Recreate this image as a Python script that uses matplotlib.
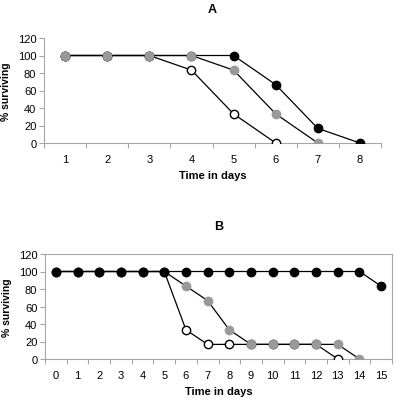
import matplotlib
matplotlib.use("Agg")
import matplotlib.pyplot as plt
import numpy as np

plt.rcParams['font.family'] = ['Liberation Sans', 'DejaVu Sans']

# Panel A data
days_a = [1, 2, 3, 4, 5, 6, 7, 8]
a_black = [100, 100, 100, 100, 100, 66.7, 16.7, 0]
a_gray = [100, 100, 100, 100, 83.3, 33.3, 0]
a_open = [100, 100, 100, 83.3, 33.3, 0]

# Panel B data
days_b = list(range(0, 16))
b_black = [100]*15 + [83.3]
b_gray = [100, 100, 100, 100, 100, 100, 83.3, 66.7, 33.3, 16.7, 16.7, 16.7, 16.7, 16.7, 0]
b_open = [100, 100, 100, 100, 100, 100, 33.3, 16.7, 16.7, 16.7, 16.7, 16.7, 16.7, 0]

W, H = 400, 402
fig = plt.figure(figsize=(W/100, H/100), dpi=100)

GRAY = '#999999'
AXC = '#a6a6a6'
ms = 6.0

def style(ax, n, box):
    ax.set_xlim(-0.5, n - 0.5)
    ax.set_ylim(0, 120)
    ax.set_yticks(range(0, 121, 20))
    ax.set_xticks(range(n))
    ax.set_xticks(np.arange(-0.5, n, 1.0), minor=True)
    ax.tick_params(axis='x', which='major', length=0, labelsize=8, pad=8)
    ax.tick_params(axis='x', which='minor', length=3.5, color=AXC, width=0.8, direction='out')
    ax.tick_params(axis='y', length=3.5, color=AXC, width=0.8, labelsize=8, pad=2)
    for s in ['left', 'bottom', 'top', 'right']:
        ax.spines[s].set_color(AXC)
        ax.spines[s].set_linewidth(0.8)
    if not box:
        ax.spines['top'].set_visible(False)
        ax.spines['right'].set_visible(False)
    ax.set_ylabel('% surviving', fontsize=7.5, fontweight='bold', labelpad=5)
    ax.set_xlabel('Time in days', fontsize=8, fontweight='bold', labelpad=4)
    ax.patch.set_alpha(0)

# Panel A
axA = fig.add_axes([44/W, 1 - 144/H, (381-44)/W, (144-39)/H])
xa = np.arange(len(days_a))
axA.plot(xa[:len(a_black)], a_black, '-o', color='black', lw=0.9, ms=ms, mfc='black', mec='black', zorder=3)
axA.plot(xa[:len(a_open)], a_open, '-o', color='black', lw=0.9, ms=ms, mfc='white', mec='black', zorder=3.5)
axA.plot(xa[:len(a_gray)], a_gray, '-o', color='black', lw=0.9, ms=ms, mfc=GRAY, mec=GRAY, zorder=4)
style(axA, len(days_a), box=False)
axA.set_xticklabels([str(d) for d in days_a])
axA.set_title('A', fontsize=9, fontweight='bold', pad=19)

# Panel B
axB = fig.add_axes([45/W, 1 - 360/H, (392-45)/W, (360-255)/H])
xb = np.arange(len(days_b))
axB.plot(xb[:len(b_open)], b_open, '-o', color='black', lw=0.9, ms=ms, mfc='white', mec='black', zorder=3)
axB.plot(xb[:len(b_gray)], b_gray, '-o', color='black', lw=0.9, ms=ms, mfc=GRAY, mec=GRAY, zorder=3.5)
axB.plot(xb[:len(b_black)], b_black, '-o', color='black', lw=0.9, ms=ms, mfc='black', mec='black', zorder=4)
style(axB, len(days_b), box=True)
axB.set_xticklabels([str(d) for d in days_b])
axB.set_title('B', fontsize=9, fontweight='bold', pad=18)

fig.savefig('out.png', dpi=100)
